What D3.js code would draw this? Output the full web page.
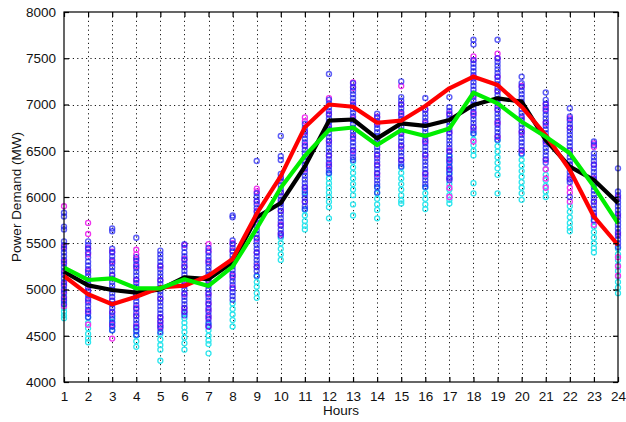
<!DOCTYPE html>
<html>
<head>
<meta charset="utf-8">
<script src="https://cdn.jsdelivr.net/npm/d3@7"></script>
<style>
  body { margin: 0; background: #fff; }
  svg { display: block; }
  text { font-family: "Liberation Sans", Arial, sans-serif; fill: #111; }
</style>
</head>
<body>
<div id="chart"></div>
<script>
var hours = d3.range(1, 25);
var yTicks = [4000, 4500, 5000, 5500, 6000, 6500, 7000, 7500, 8000];

// the three averaged profiles
var redLine = [5146, 4948, 4840, 4922, 5022, 5041, 5149, 5330, 5820, 6225, 6755, 7000, 6976, 6803, 6825, 6984, 7175, 7301, 7211, 6976, 6670, 6292, 5787, 5481];
var blackLine = [5192, 5045, 4995, 4966, 5002, 5132, 5113, 5294, 5780, 5935, 6330, 6825, 6838, 6634, 6796, 6768, 6832, 6995, 7067, 7031, 6616, 6328, 6184, 5935];
var greenLine = [5236, 5103, 5120, 5013, 5013, 5110, 5038, 5247, 5660, 6100, 6445, 6724, 6751, 6562, 6724, 6659, 6741, 7128, 7013, 6814, 6652, 6472, 6112, 5716];

// daily observations, one list per hour
var bluePts = [
  [5830, 5790, 5680, 5650, 5520, 5480, 5440, 5400, 5360, 5320, 5280, 5240, 5200, 5160, 5120, 5080, 5040, 5000, 4960, 4920, 4880, 4840],
  [5520, 5480, 5440, 5400, 5350, 5300, 5260, 5220, 5180, 5140, 5100, 5060, 5020, 4980, 4940, 4900, 4860, 4820, 4780, 4740, 4700],
  [5660, 5630, 5440, 5400, 5360, 5320, 5280, 5240, 5200, 5160, 5120, 5080, 5040, 5000, 4960, 4920, 4880, 4840, 4800, 4760, 4720, 4680, 4640, 4600, 4560],
  [5560, 5350, 5310, 5270, 5230, 5190, 5150, 5110, 5070, 5030, 4990, 4950, 4910, 4870, 4830, 4790, 4750, 4710, 4670, 4630, 4590, 4550, 4510],
  [5420, 5380, 5340, 5300, 5260, 5220, 5180, 5140, 5100, 5060, 5020, 4980, 4940, 4900, 4860, 4820, 4780, 4740, 4700, 4660, 4620, 4580, 4540],
  [5490, 5450, 5400, 5360, 5320, 5280, 5240, 5200, 5160, 5120, 5080, 5040, 5000, 4960, 4920, 4880, 4840, 4800, 4760, 4720],
  [5450, 5400, 5360, 5320, 5280, 5240, 5200, 5160, 5120, 5080, 5040, 5000, 4960, 4920, 4880, 4840, 4800, 4760, 4720, 4680, 4640, 4600],
  [5800, 5780, 5530, 5490, 5450, 5410, 5370, 5330, 5290, 5250, 5210, 5170, 5130, 5090, 5050, 5010, 4970, 4930, 4890],
  [6390, 6040, 6000, 5960, 5920, 5880, 5840, 5800, 5760, 5720, 5680, 5640, 5600, 5560, 5520, 5480, 5440, 5400, 5360, 5320, 5280, 5240, 5200, 5150],
  [6660, 6440, 6400, 6250, 6210, 6170, 6130, 6090, 6050, 6010, 5970, 5930, 5890, 5850, 5810, 5770, 5730, 5690, 5650, 5610, 5580],
  [6790, 6750, 6710, 6670, 6630, 6590, 6550, 6510, 6470, 6430, 6390, 6350, 6310, 6270, 6230, 6190, 6150, 6110, 6070, 6030, 5990, 5950, 5900, 5870],
  [7330, 7050, 7010, 6970, 6930, 6890, 6850, 6810, 6770, 6730, 6690, 6650, 6610, 6570, 6530, 6490, 6450, 6410, 6370, 6330, 6290, 6260],
  [7230, 7190, 7150, 7110, 7070, 7030, 6990, 6950, 6910, 6870, 6830, 6790, 6750, 6710, 6670, 6630, 6590, 6550, 6510, 6470, 6430, 6400],
  [6900, 6860, 6820, 6780, 6740, 6700, 6660, 6620, 6580, 6540, 6500, 6460, 6420, 6380, 6340, 6300, 6260, 6220, 6180, 6140, 6110, 6050],
  [7250, 7080, 7040, 7000, 6960, 6920, 6880, 6840, 6800, 6760, 6720, 6680, 6640, 6600, 6560, 6520, 6480, 6440, 6400, 6360, 6330],
  [7070, 6940, 6900, 6860, 6820, 6780, 6740, 6700, 6660, 6620, 6580, 6540, 6500, 6460, 6420, 6380, 6340, 6300, 6260, 6220, 6180, 6140, 6110],
  [7080, 6970, 6930, 6890, 6850, 6810, 6770, 6730, 6690, 6650, 6610, 6570, 6530, 6490, 6450, 6410, 6370, 6330, 6290, 6250, 6210, 6180],
  [7700, 7650, 7480, 7440, 7400, 7360, 7320, 7280, 7240, 7200, 7160, 7120, 7080, 7040, 7000, 6960, 6920, 6880, 6840, 6800, 6760, 6720, 6690],
  [7700, 7500, 7460, 7420, 7380, 7340, 7300, 7260, 7220, 7180, 7140, 7100, 7060, 7020, 6980, 6940, 6900, 6860, 6820, 6780, 6740, 6700, 6660, 6620],
  [7300, 7230, 7190, 7150, 7110, 7070, 7030, 6990, 6950, 6910, 6870, 6830, 6790, 6750, 6710, 6670, 6630, 6590, 6550, 6510, 6470],
  [7130, 7050, 7010, 6970, 6930, 6890, 6850, 6810, 6770, 6730, 6690, 6650, 6610, 6570, 6530, 6490, 6450, 6410, 6370],
  [6960, 6870, 6830, 6790, 6750, 6710, 6670, 6630, 6590, 6550, 6510, 6470, 6430, 6390, 6350, 6310, 6270, 6230, 6190, 6160, 6000],
  [6600, 6560, 6470, 6430, 6390, 6350, 6310, 6270, 6230, 6190, 6150, 6110, 6070, 6030, 5990, 5950, 5910, 5870, 5830, 5790, 5750],
  [6310, 6060, 6020, 5980, 5940, 5900, 5860, 5820, 5780, 5740, 5700, 5660, 5620, 5580, 5540, 5500, 5460]
];
var magentaPts = [
  [5900, 5460, 5300, 5180, 5060, 4980, 4900, 4820],
  [5720, 5600, 5450, 5380, 5200, 4990, 4880, 4760, 4620],
  [5410, 5300, 5150, 4880, 4750, 4620, 4470],
  [5430, 5380, 5330, 5250, 5100, 4950, 4800, 4720, 4600],
  [5250, 5100, 4900, 4700, 4650, 4600],
  [5480, 5330, 5250, 5050, 4950, 4800, 4760],
  [5490, 5420, 5300, 5100, 4950, 4850, 4780, 4700, 4600],
  [5500, 5420, 5280, 5150, 5020],
  [6090, 6060, 5950, 5850, 5700, 5550, 5400, 5250],
  [6200, 6050, 5950, 5850, 5700, 5600],
  [6860, 6820, 6700, 6560, 6400, 6300, 6100, 5950],
  [7070, 6900, 6750, 6600, 6450, 6350],
  [7240, 7180, 7000, 6850, 6650, 6500],
  [6870, 6800, 6600, 6450, 6350, 6250],
  [7200, 7000, 6900, 6700, 6550, 6400],
  [6950, 6800, 6600, 6450, 6250],
  [6900, 6700, 6500, 6400, 6300, 6200, 6100, 6000],
  [7520, 7480, 7300, 7100, 6900, 6750, 6600],
  [7550, 7500, 7300, 7150, 6950, 6800, 6650],
  [7200, 7000, 6850, 6700, 6500],
  [7000, 6950, 6800, 6600, 6400, 6300, 6200, 6100],
  [6850, 6750, 6500, 6350, 6200, 6100, 6050, 5950],
  [6580, 6540, 6350, 6200, 5950, 5800, 5700],
  [6000, 5800, 5600, 5350, 5250, 5150]
];
var cyanPts = [
  [4860, 4800, 4760, 4720, 4690],
  [4700, 4640, 4580, 4520, 4470, 4430],
  [4700, 4650, 4600, 4560],
  [4560, 4500, 4440, 4380],
  [4600, 4520, 4460, 4400, 4350, 4230],
  [4740, 4690, 4640, 4590, 4540, 4480, 4420, 4350],
  [4620, 4560, 4500, 4450, 4410, 4310],
  [4850, 4790, 4730, 4670, 4600],
  [5140, 5080, 5030, 4960, 4910],
  [5560, 5500, 5440, 5380, 5320],
  [6100, 6050, 5860, 5800, 5740, 5690, 5650],
  [6250, 6200, 6150, 6100, 6050, 6000, 5950, 5890, 5770],
  [6380, 6320, 6260, 6200, 6140, 6080, 6020, 5920, 5800],
  [6100, 6040, 5980, 5920, 5860, 5770],
  [6320, 6260, 6200, 6140, 6080, 6020, 5960, 5930],
  [6100, 6040, 5980, 5920, 5870],
  [6440, 6380, 6320, 6260, 6200, 6140, 6080, 6020, 5970, 5930],
  [6680, 6620, 6560, 6500, 6450, 6150, 6040],
  [6610, 6550, 6490, 6430, 6370, 6310, 6240, 6040],
  [6460, 6400, 6340, 6280, 6220, 6160, 6100, 6040, 5970],
  [6300, 6240, 6180, 6120, 6060, 6000],
  [5900, 5840, 5780, 5720, 5670, 5630],
  [5740, 5680, 5620, 5560, 5500, 5450, 5400],
  [5440, 5380, 5320, 5260, 5200, 5140, 5080, 5020, 4960]
];

var width = 626,
    height = 422,
    margin = {top: 12, right: 8, bottom: 40, left: 64};

var svg = d3.select("#chart").append("svg")
    .attr("width", width)
    .attr("height", height);

var x = d3.scaleLinear().domain([1, 24]).range([margin.left, width - margin.right]);
var y = d3.scaleLinear().domain([4000, 8000]).range([height - margin.bottom, margin.top]);

// dotted grid
var grid = svg.append("g").attr("stroke", "#000").attr("stroke-width", 1)
    .attr("stroke-dasharray", "1.2,3.2").attr("opacity", 0.9);
grid.selectAll(".vg").data(hours.slice(1, -1)).enter().append("line")
    .attr("x1", d => Math.round(x(d)) + 0.5).attr("x2", d => Math.round(x(d)) + 0.5)
    .attr("y1", y(8000)).attr("y2", y(4000));
grid.selectAll(".hg").data(yTicks.slice(1, -1)).enter().append("line")
    .attr("y1", d => Math.round(y(d)) + 0.5).attr("y2", d => Math.round(y(d)) + 0.5)
    .attr("x1", x(1)).attr("x2", x(24));

// scatter of the daily values
function dots(lists, color, cls, sw, op) {
    var flat = [];
    lists.forEach(function(vals, i) {
        vals.forEach(function(v) { flat.push({h: hours[i], v: v}); });
    });
    svg.append("g").selectAll("circle." + cls)
        .data(flat)
        .enter().append("circle")
        .attr("class", cls)
        .attr("cx", d => x(d.h))
        .attr("cy", d => y(d.v))
        .attr("r", 2.5)
        .attr("fill", "none")
        .attr("stroke", color)
        .attr("stroke-width", sw)
        .attr("stroke-opacity", op);
}
dots(cyanPts, "#2ee6ee", "cy", 1.3, 1);
dots(magentaPts, "#ee33ee", "mg", 1.3, 1);
dots(bluePts, "#2020f2", "bl", 1.4, 0.72);

// mean lines
var line = d3.line().x((d, i) => x(hours[i])).y(d => y(d));
[[blackLine, "#000"], [redLine, "#ff0000"], [greenLine, "#00ee00"]].forEach(function(s) {
    svg.append("path")
        .datum(s[0])
        .attr("d", line)
        .attr("fill", "none")
        .attr("stroke", s[1])
        .attr("stroke-width", 4.2)
        .attr("stroke-linejoin", "round");
});

// box and inward ticks
var x0 = x(1), x1 = x(24), y0 = y(4000), y1 = y(8000);
svg.append("rect")
    .attr("x", x0).attr("y", y1)
    .attr("width", x1 - x0).attr("height", y0 - y1)
    .attr("fill", "none").attr("stroke", "#000").attr("stroke-width", 1.2);

var ax = svg.append("g").attr("transform", "translate(0," + y0 + ")")
    .call(d3.axisBottom(x).tickValues(hours).tickFormat(d3.format("d")).tickSizeInner(-5).tickSizeOuter(0).tickPadding(9));
var axTop = svg.append("g").attr("transform", "translate(0," + y1 + ")")
    .call(d3.axisTop(x).tickValues(hours).tickSizeInner(-5).tickSizeOuter(0).tickFormat(""));
var ay = svg.append("g").attr("transform", "translate(" + x0 + ",0)")
    .call(d3.axisLeft(y).tickValues(yTicks).tickFormat(d3.format("d")).tickSizeInner(-5).tickSizeOuter(0).tickPadding(8));
var ayR = svg.append("g").attr("transform", "translate(" + x1 + ",0)")
    .call(d3.axisRight(y).tickValues(yTicks).tickSizeInner(-5).tickSizeOuter(0).tickFormat(""));

[ax, axTop, ay, ayR].forEach(function(g) {
    g.select(".domain").remove();
    g.selectAll("line").attr("stroke", "#000").attr("stroke-width", 1.2);
    g.selectAll("text").style("font-size", "13.5px")
        .style("font-family", "'Liberation Sans', Arial, sans-serif").attr("fill", "#111");
});

svg.append("text")
    .attr("x", (x0 + x1) / 2)
    .attr("y", 415)
    .attr("text-anchor", "middle")
    .style("font-size", "13.5px")
    .text("Hours");

svg.append("text")
    .attr("transform", "translate(21," + ((y0 + y1) / 2) + ") rotate(-90)")
    .attr("text-anchor", "middle")
    .style("font-size", "13.5px")
    .text("Power Demand (MW)");
</script>
</body>
</html>
